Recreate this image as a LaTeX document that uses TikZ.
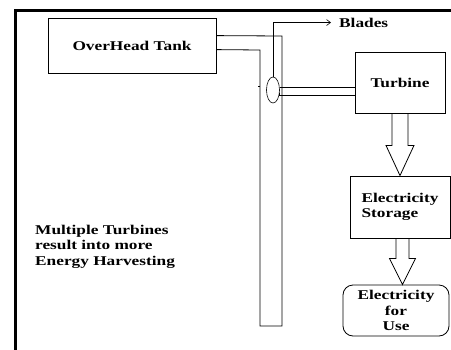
\documentclass[tikz,border=0pt]{standalone}
\usepackage{fontspec}
\setmainfont[FakeStretch=1.29]{Liberation Serif}
\usetikzlibrary{calc,arrows.meta,shapes.geometric}
\begin{document}
\begin{tikzpicture}[x=1pt,y=-1pt,
  every node/.style={font=\fontsize{13.4}{15.5}\selectfont\bfseries},
  boxn/.style={draw, line width=0.8pt, inner sep=0pt},
  ln/.style={line width=0.8pt},
  bigarrow/.style={draw, line width=0.8pt, line join=miter}]
\useasboundingbox (0,0) rectangle (451,349);
\clip (0,0) rectangle (451,349);
% frame
\draw[line width=3pt] (15.5,355) -- (15.5,10.5) -- (460,10.5);
% nodes
\node[boxn, minimum width=168pt, minimum height=55pt] (tank) at (132,45.5) {OverHead Tank};
\node[boxn, minimum width=90pt, minimum height=61pt] (turb) at (400,82.5) {Turbine};
\node[boxn, minimum width=100pt, minimum height=62pt, align=left] (stor) at (400,207) {Electricity\\Storage};
\node[boxn, minimum width=106pt, minimum height=51pt, rounded corners=10pt, align=center] (use) at (396,310.5) {Electricity\\for\\ Use};
\node[draw, line width=0.6pt, ellipse, minimum width=13pt, minimum height=26pt, inner sep=0pt] (blade) at (273,90) {};
\node[anchor=west, inner sep=0pt] (bltxt) at (339,22.5) {Blades};
\node[anchor=north west, inner sep=0pt, align=left] (multi) at (35,224.5) {Multiple Turbines\\result into more\\Energy Harvesting};
% pipe
\coordinate (p1) at ($(tank.north east)+(0,18)$);
\coordinate (p2) at ($(tank.north east)+(0,32)$);
\draw[ln] (p1) -- (282,36) -- (282,326) -- (260,326) -- (260,50) -- (p2);
\draw[ln] (258,86) -- (260,86);
% blades pointer
\draw[line width=0.6pt, -{Straight Barb[length=4pt,width=6pt]}] (blade.north) |- ([xshift=-8pt]bltxt.west);
% shaft
\coordinate (s1) at ($(blade.east)+(0,-3)$);
\coordinate (s2) at ($(blade.east)+(0,5)$);
\draw[ln] (s1) -- (s1 -| turb.west);
\draw[ln] ($(blade.east)+(0,3)$) -- (s2) -- (s2 -| turb.west);
% big arrows
\draw[bigarrow] ($(turb.south)+(-8,0)$) -- ++(0,32) -- ++(-6,0) -- ($(stor.north)+(0,0)$) -- ($(turb.south)+(14,32)$) -- ++(-6,0) -- ($(turb.south)+(8,0)$);
\coordinate (a2) at ($(stor.south)+(2.5,0)$);
\draw[bigarrow] ($(a2)+(-6.5,0)$) -- ++(0,20) -- ++(-6.5,0) -- (a2 |- use.north) -- ($(a2)+(13,20)$) -- ++(-6.5,0) -- ($(a2)+(6.5,0)$);
\end{tikzpicture}
\end{document}
